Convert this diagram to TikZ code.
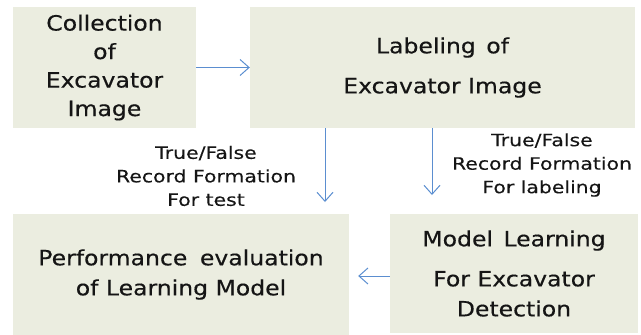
\documentclass[tikz,border=0pt]{standalone}
\usepackage{fontspec}
\setmainfont[FakeStretch=1.12,FakeBold=0.4]{DejaVu Sans}
\newfontfamily\labfont[FakeStretch=1.2,FakeBold=0.2]{DejaVu Sans}
\usetikzlibrary{arrows.meta}
\definecolor{boxfill}{HTML}{EBEDE0}
\definecolor{arrblue}{HTML}{5B8ED0}
\definecolor{txt}{HTML}{151515}
\newcommand{\wsp}[1]{\spaceskip=#1em\relax}
\begin{document}
\begin{tikzpicture}[x=1pt,y=-1pt,
  box/.style={fill=boxfill,draw=none,inner sep=0pt,text=txt,align=center,font=\fontsize{21}{28.5}\selectfont},
  lbl/.style={text=txt,align=center,inner sep=0pt,font=\labfont\fontsize{17}{23.5}\selectfont},
  arr/.style={draw=arrblue,line width=1pt,-{Straight Barb[length=9pt,width=16pt,line width=1pt]}}]
\useasboundingbox (0,0) rectangle (641,335);
\node[box,minimum width=183pt,minimum height=121pt] (b1) at (104.5,67.5) {Collection\\of\\Excavator\\Image};
\node[box,minimum width=385pt,minimum height=121pt,font=\fontsize{21}{40}\selectfont] (b2) at (442.5,67.5) {\wsp{0.5}Labeling of\\Excavator Image};
\node[box,minimum width=336pt,minimum height=121pt,font=\fontsize{21}{30}\selectfont] (b3) at (181,274.5) {\wsp{0.6}Performance evaluation\\of Learning Model};
\node[box,minimum width=248pt,minimum height=119pt,font=\fontsize{21}{30}\selectfont] (b4) at (514,273.5) {\wsp{0.5}Model Learning\\[10pt]For Excavator\\Detection};
\node[lbl] (l1) at (206,176) {\wsp{0.6}True/False\\Record Formation\\For test};
\node[lbl] (l2) at (542,165) {\wsp{0.6}True/False\\Record Formation\\For labeling};
\coordinate (e1) at (325,202);
\coordinate (e2) at (432,195);
\draw[arr] (b1.east) -- (b2.west);
\draw[arr] (b2.south -| e1) -- (e1);
\draw[arr] (b2.south -| e2) -- (e2);
\draw[arr,shorten >=9pt] (b4.west |- 0,276) -- (b3.east |- 0,276);
\end{tikzpicture}
\end{document}
